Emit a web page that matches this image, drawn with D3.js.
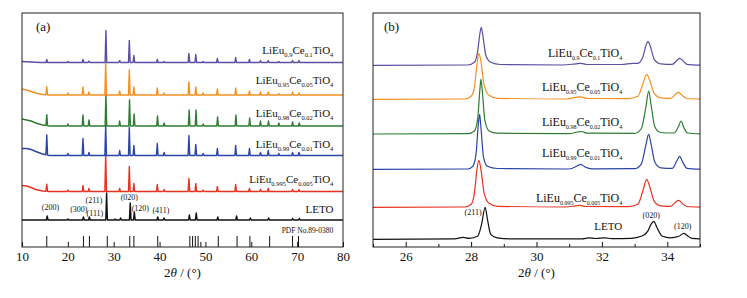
<!DOCTYPE html>
<html>
<head>
<meta charset="utf-8">
<script src="https://cdn.jsdelivr.net/npm/d3@7"></script>
<style>
  body { margin: 0; background: #fff; }
  svg text { font-family: "Liberation Serif", "Times New Roman", serif; fill: #111; }
</style>
</head>
<body>
<div id="chart"></div>
<script>
// series, bottom to top
const seriesNames = ['LETO', 'LiEu0.995Ce0.005TiO4', 'LiEu0.99Ce0.01TiO4', 'LiEu0.98Ce0.02TiO4', 'LiEu0.95Ce0.05TiO4', 'LiEu0.9Ce0.1TiO4'];
const seriesColors = ['#111111', '#e8321f', '#2b45a6', '#2e7d32', '#f5901f', '#5b4ea3'];

// panel (a): vertical offsets and peak lists [2theta, height]
const offsetsA = [27, 55.5, 91.5, 121, 152, 184.5];
const peaksA = [
  [[15.5,4],[20.0,1],[23.4,3],[24.7,3],[28.45,27],[30.3,1],[31.5,2],[33.6,17],[34.5,8],[39.6,3],[41.0,2],[46.5,5],[48.0,7],[52.7,3],[56.8,4],[59.8,2],[63.8,2],[69.0,1.5],[70.5,1.5]],
  [[15.4,7],[20.0,1.5],[23.3,6],[24.6,3],[28.25,37],[31.3,3],[33.4,25],[34.4,8],[39.5,7],[41.0,2],[46.4,13],[47.9,8],[49.5,1.5],[52.6,5],[56.6,7],[59.6,3],[62.0,2],[63.7,3],[69.0,2],[70.4,2]],
  [[15.4,20],[20.0,2],[23.3,17],[24.6,3],[28.25,30],[31.3,5],[33.4,28],[34.4,10],[39.5,12],[41.0,3],[46.4,20],[47.9,11],[49.5,2],[52.6,7],[56.6,10],[59.6,7],[62.0,3],[63.7,5],[66.0,2],[69.0,3],[70.4,3]],
  [[15.4,11],[20.0,2],[23.3,11],[24.6,6],[28.3,31],[31.3,5],[33.45,26],[34.45,12],[39.55,10],[41.0,3],[46.45,16],[47.95,16],[49.5,2],[52.65,9],[56.65,11],[59.65,8],[62.0,5],[63.75,5],[66.0,3],[69.0,4],[70.45,3]],
  [[15.4,8],[20.0,2],[23.3,8],[24.6,3],[28.25,32],[31.3,4],[33.4,25],[34.4,8],[39.5,7],[41.0,2],[46.4,13],[47.9,8],[49.5,2],[52.6,6],[56.6,7],[59.6,4],[62.0,3],[63.7,3],[66.0,1.5],[69.0,3],[70.4,2]],
  [[15.4,3],[20.0,1],[23.3,3],[24.6,1.5],[28.3,32],[31.3,2],[33.4,22],[34.4,7],[39.5,3],[41.0,1],[46.4,9],[47.9,8],[49.5,1],[52.6,4],[56.6,5],[59.6,3],[62.0,2],[63.7,2],[66.0,1],[69.0,2],[70.4,2]]
];
// low-angle background [2theta, level]
const backgroundA = [
  [[10,0],[80,0]],
  [[10,6],[11,5.5],[12,4],[13,2],[14.5,0.5],[16,0],[80,0]],
  [[10,7],[11,7],[12,6],[13,4],[14.5,1.5],[16,0],[80,0]],
  [[10,7],[11,6],[12,5],[13,3],[14.5,1],[16,0],[80,0]],
  [[10,6],[11,5],[12,3.5],[13,2],[14.5,0.5],[16,0],[80,0]],
  [[10,1],[12,0.5],[14,0],[80,0]]
];
// PDF No.89-0380 reference lines [2theta, height]
const pdfLines = [[15.4,11],[23.4,11],[24.7,11],[28.6,11],[33.5,11],[34.4,11],[39.6,11],[46.6,11],[47.2,11],[47.8,11],[48.4,11],[49.0,5],[52.8,11],[56.9,11],[59.7,11],[64.0,11],[69.0,11],[70.3,11]];
const hklA = ['(200)', '(300)', '(211)', '(111)', '(020)', '(120)', '(411)'];
const hklAPos = [[16.2,37],[22.4,35],[25.7,44],[25.9,31.5],[33.4,47],[35.8,36.5],[40.3,34]];
const ticksA = [10, 20, 30, 40, 50, 60, 70, 80];

// panel (b): offsets and traces [2theta, intensity]
const offsetsB = [7.7, 39.7, 77.7, 113, 147.7, 181.7];
const tracesB = [
  [[25,0],[27.5,0.5],[27.75,2],[27.95,1],[28.2,3],[28.32,15],[28.43,32],[28.5,20],[28.6,5],[28.8,1.5],[29.2,0.5],[31.4,0.5],[31.6,1.5],[31.8,0.8],[32.1,1.5],[32.3,0.6],[32.9,1],[33.2,3],[33.4,8],[33.52,16],[33.59,18],[33.68,12],[33.85,3],[34.1,1.5],[34.35,3],[34.51,6],[34.6,4],[34.75,1],[35,0.5]],
  [[25,0],[27.8,0.3],[28.0,3],[28.1,14],[28.18,38],[28.24,47],[28.3,38],[28.4,14],[28.55,4],[28.8,1],[30.9,0.3],[31.2,1.5],[31.32,2],[31.5,0.8],[32.8,0.6],[33.1,3],[33.25,16],[33.37,28],[33.45,22],[33.6,6],[33.8,1.5],[34.1,1],[34.25,5],[34.35,7],[34.45,4],[34.6,0.8],[35,0.2]],
  [[25,0],[27.9,0.3],[28.05,3],[28.15,15],[28.22,45],[28.26,55],[28.3,42],[28.38,12],[28.5,3],[28.8,0.8],[31.0,0.3],[31.25,3.5],[31.35,5],[31.5,2],[31.7,0.5],[33.0,0.6],[33.2,5],[33.35,25],[33.43,35],[33.5,26],[33.62,7],[33.8,1.5],[34.15,1],[34.3,9],[34.38,13],[34.46,8],[34.6,1],[35,0.2]],
  [[25,0],[27.9,0.3],[28.1,3],[28.2,15],[28.27,45],[28.3,55],[28.34,44],[28.42,14],[28.55,3],[28.8,0.8],[31.0,0.3],[31.25,2],[31.38,2.5],[31.55,0.8],[33.0,0.6],[33.2,5],[33.35,28],[33.43,43],[33.5,30],[33.62,7],[33.8,1.5],[34.2,1],[34.35,8],[34.42,13],[34.5,7],[34.62,1],[35,0.2]],
  [[25,0],[27.8,0.3],[28.0,3],[28.1,12],[28.18,35],[28.24,46],[28.3,38],[28.4,14],[28.55,4],[28.8,1],[30.9,0.3],[31.2,2],[31.35,2.5],[31.55,0.8],[32.8,0.6],[33.1,3],[33.25,15],[33.37,25],[33.45,20],[33.6,6],[33.8,1.5],[34.1,1],[34.25,5],[34.34,7],[34.45,4],[34.6,0.8],[35,0.2]],
  [[25,0],[27.9,0.3],[28.1,3],[28.2,14],[28.27,32],[28.31,38],[28.36,30],[28.45,10],[28.6,3],[28.9,0.8],[30.8,0.3],[31.2,1.5],[31.35,2],[31.55,0.8],[32.6,0.8],[32.95,2],[33.1,2],[33.25,8],[33.35,20],[33.41,24],[33.48,19],[33.6,6],[33.8,1.5],[34.15,1],[34.3,5],[34.38,7],[34.48,4.5],[34.6,1],[35,0.2]]
];
const hklB = ['(211)', '(020)', '(120)'];
const hklBPos = [[28.06,32.5],[33.51,29.5],[34.47,18]];
const ticksBMajor = [26, 28, 30, 32, 34];
const ticksBMinor = [25, 27, 29, 31, 33, 35];

// label heights above each trace baseline
const labelLiftA = [7.5, 9, 7.5, 9.3, 11, 9];
const labelLiftB = [9.3, 5.6, 12.6, 8.3, 8.6, 8.6];

const width = 747, height = 298;
const svg = d3.select('#chart').append('svg')
  .attr('width', width).attr('height', height);

const plotTop = 13, plotBottom = 247;
const yScale = d3.scaleLinear().domain([0, 234]).range([plotBottom, plotTop]);
const xA = d3.scaleLinear().domain([10, 80]).range([22, 343]);
const xB = d3.scaleLinear().domain([25, 35]).range([373, 700]);

function addName(g, name, x, y, fs, sub) {
  const t = g.append('text').attr('x', x).attr('y', y)
    .attr('text-anchor', 'end').attr('font-size', fs);
  const parts = name.split(/(\d[\d.]*)/).filter(s => s !== '');
  let down = false;
  parts.forEach(p => {
    const isSub = /^\d/.test(p);
    const ts = t.append('tspan').text(p);
    if (isSub) { ts.attr('font-size', sub).attr('dy', down ? 0 : 3); down = true; }
    else if (down) { ts.attr('dy', -3); down = false; }
  });
}

function frame(x, clipId) {
  const [x0, x1] = x.range();
  svg.append('clipPath').attr('id', clipId).append('rect')
    .attr('x', x0).attr('y', plotTop).attr('width', x1 - x0).attr('height', plotBottom - plotTop);
  return [x0, x1];
}

function axisTitle(cx) {
  const t = svg.append('text').attr('x', cx).attr('y', 277)
    .attr('text-anchor', 'middle').attr('font-size', 13);
  t.append('tspan').text('2');
  t.append('tspan').attr('font-style', 'italic').text('θ');
  t.append('tspan').text(' / (°)');
}

// ---------- panel (a) ----------
{
  const [x0, x1] = frame(xA, 'clipA');
  const g = svg.append('g').attr('clip-path', 'url(#clipA)');
  const line = d3.line().x(d => xA(d[0])).y(d => yScale(d[1]));
  const hw = 0.18;

  peaksA.forEach((peaks, i) => {
    const bg = backgroundA[i];
    const base = d3.scaleLinear().domain(bg.map(d => d[0])).range(bg.map(d => d[1])).clamp(true);
    let pts = bg.map(d => [d[0], d[1]]);
    peaks.forEach(([p, h]) => {
      pts.push([p - hw, base(p - hw)], [p, base(p) + h], [p + hw, base(p + hw)]);
    });
    pts.sort((a, b) => a[0] - b[0]);
    pts = pts.map(d => [d[0], d[1] + offsetsA[i]]);
    g.append('path').datum(pts)
      .attr('d', line).attr('fill', 'none')
      .attr('stroke', seriesColors[i]).attr('stroke-width', 1.4)
      .attr('stroke-linejoin', 'round');
  });

  // reference lines
  g.selectAll('.pdf').data(pdfLines).enter().append('line')
    .attr('x1', d => xA(d[0])).attr('x2', d => xA(d[0]))
    .attr('y1', yScale(0)).attr('y2', d => yScale(d[1]))
    .attr('stroke', '#111').attr('stroke-width', 1);

  seriesNames.forEach((n, i) => {
    addName(svg, n, xA(77.9), yScale(offsetsA[i] + labelLiftA[i]), 11, 6.5);
  });
  svg.append('text').attr('x', xA(77.9)).attr('y', yScale(13.7))
    .attr('text-anchor', 'end').attr('font-size', 7.5).text('PDF No.89-0380');

  hklA.forEach((h, i) => {
    svg.append('text').attr('x', xA(hklAPos[i][0])).attr('y', yScale(hklAPos[i][1]))
      .attr('text-anchor', 'middle').attr('font-size', 8).text(h);
  });

  const ax = svg.append('g').attr('transform', `translate(0,${plotBottom})`)
    .call(d3.axisBottom(xA).tickValues(ticksA).tickSizeInner(-5).tickSizeOuter(0).tickPadding(5));
  ax.attr('font-family', null);
  ax.select('.domain').remove();
  ax.selectAll('line').attr('stroke', '#111');
  ax.selectAll('text').attr('font-size', 13).attr('fill', '#111');

  svg.append('rect').attr('x', x0).attr('y', plotTop).attr('width', x1 - x0).attr('height', plotBottom - plotTop)
    .attr('fill', 'none').attr('stroke', '#222').attr('stroke-width', 1);
  svg.append('text').attr('x', 36).attr('y', 30.5).attr('font-size', 13).text('(a)');
  axisTitle((x0 + x1) / 2);
}

// ---------- panel (b) ----------
{
  const [x0, x1] = frame(xB, 'clipB');
  const g = svg.append('g').attr('clip-path', 'url(#clipB)');
  const line = d3.line().x(d => xB(d[0])).y(d => yScale(d[1])).curve(d3.curveMonotoneX);

  tracesB.forEach((tr, i) => {
    g.append('path').datum(tr.map(d => [d[0], d[1] + offsetsB[i]]))
      .attr('d', line).attr('fill', 'none')
      .attr('stroke', seriesColors[i]).attr('stroke-width', 1.2);
  });

  seriesNames.forEach((n, i) => {
    addName(svg, n, xB(32.62), yScale(offsetsB[i] + labelLiftB[i]), i === 0 ? 11 : 12, 6);
  });

  hklB.forEach((h, i) => {
    svg.append('text').attr('x', xB(hklBPos[i][0])).attr('y', yScale(hklBPos[i][1]))
      .attr('text-anchor', 'middle').attr('font-size', 8).text(h);
  });

  const axMinor = svg.append('g').attr('transform', `translate(0,${plotBottom})`)
    .call(d3.axisBottom(xB).tickValues(ticksBMinor).tickSizeInner(-3).tickSizeOuter(0).tickFormat(''));
  axMinor.select('.domain').remove();
  axMinor.selectAll('line').attr('stroke', '#111');
  const ax = svg.append('g').attr('transform', `translate(0,${plotBottom})`)
    .call(d3.axisBottom(xB).tickValues(ticksBMajor).tickSizeInner(-5).tickSizeOuter(0).tickPadding(5));
  ax.attr('font-family', null);
  ax.select('.domain').remove();
  ax.selectAll('line').attr('stroke', '#111');
  ax.selectAll('text').attr('font-size', 13).attr('fill', '#111');

  svg.append('rect').attr('x', x0).attr('y', plotTop).attr('width', x1 - x0).attr('height', plotBottom - plotTop)
    .attr('fill', 'none').attr('stroke', '#222').attr('stroke-width', 1);
  svg.append('text').attr('x', 384).attr('y', 30.5).attr('font-size', 13).text('(b)');
  axisTitle((x0 + x1) / 2);
}
</script>
</body>
</html>
